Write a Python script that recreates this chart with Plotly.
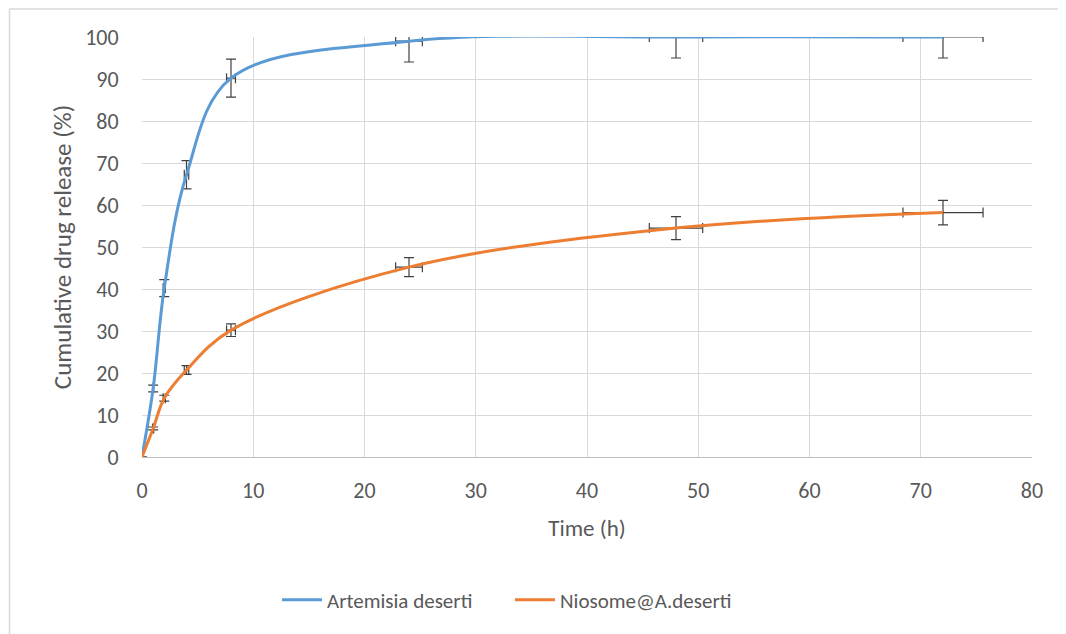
import plotly.graph_objects as go

time_h = [0, 1, 2, 4, 8, 24, 48, 72]
artemisia = [0, 16.3, 40.2, 67.2, 90.2, 99.0, 100.0, 100.0]
niosome = [0, 6.8, 14.0, 20.7, 30.2, 45.2, 54.5, 58.2]
err_pct = 5

series_names = ["Artemisia deserti", "Niosome@A.deserti"]
series_colors = ["#5B9BD5", "#ED7D31"]

FONT = "Carlito, Calibri, Lato, sans-serif"
TXT = "#595959"
GRID = "#D9D9D9"
ERR = "#404040"

fig = go.Figure()
for name, vals, col in zip(series_names, [artemisia, niosome], series_colors):
    fig.add_trace(go.Scatter(
        x=time_h, y=vals, name=name, mode="lines",
        line=dict(color=col, width=3, shape="spline", smoothing=1.0),
        error_y=dict(type="percent", value=err_pct, color=ERR, thickness=1.2, width=5),
        error_x=dict(type="percent", value=err_pct, color=ERR, thickness=1.2, width=5),
    ))

# page body has an 8px offset; screen coords below are those of the screenshot
OFF = 8
W, H = 1058, 626
L, T = 142 - OFF, 37 - OFF
pw, ph = 890, 420
R = W - L - pw
B = H - T - ph

def px(X):
    return (X - 142) / pw

def py(Y):
    return (457 - Y) / ph

border = dict(color="#D9D9D9", width=1.5)

fig.update_layout(
    width=W, height=H,
    margin=dict(l=L, r=R, t=T, b=B, autoexpand=False),
    paper_bgcolor="white", plot_bgcolor="white",
    font=dict(family=FONT, color=TXT, size=22),
    showlegend=True,
    legend=dict(orientation="h", x=px(277), xanchor="left", y=py(600), yanchor="middle",
                font=dict(size=21, color=TXT), itemwidth=40, entrywidth=178, tracegroupgap=0),
    xaxis=dict(range=[0, 80], dtick=10, tick0=0, showgrid=True, gridcolor=GRID, gridwidth=1,
               showline=True, linecolor="#BFBFBF", linewidth=1, zeroline=False,
               ticks="outside", ticklen=14, tickcolor="rgba(0,0,0,0)",
               tickfont=dict(size=22, color=TXT),
               title=dict(text="Time (h)", font=dict(size=23, color=TXT), standoff=16),
               automargin=False),
    yaxis=dict(range=[0, 100], dtick=10, tick0=0, showgrid=True, gridcolor=GRID, gridwidth=1,
               showline=False, zeroline=False,
               ticks="outside", ticklen=18, tickcolor="rgba(0,0,0,0)",
               tickfont=dict(size=22, color=TXT),
               title=dict(text="Cumulative drug release (%)", font=dict(size=25, color=TXT), standoff=6),
               automargin=False),
    shapes=[
        dict(type="line", xref="paper", yref="paper", x0=px(9.5), x1=px(1200), y0=py(9), y1=py(9),
             line=border, layer="below"),
        dict(type="line", xref="paper", yref="paper", x0=px(9.5), x1=px(9.5), y0=py(9), y1=py(800),
             line=border, layer="below"),
    ],
)

fig.write_html(
    "out.html",
    post_script="document.documentElement.style.overflow='hidden';document.body.style.overflow='hidden';",
)
